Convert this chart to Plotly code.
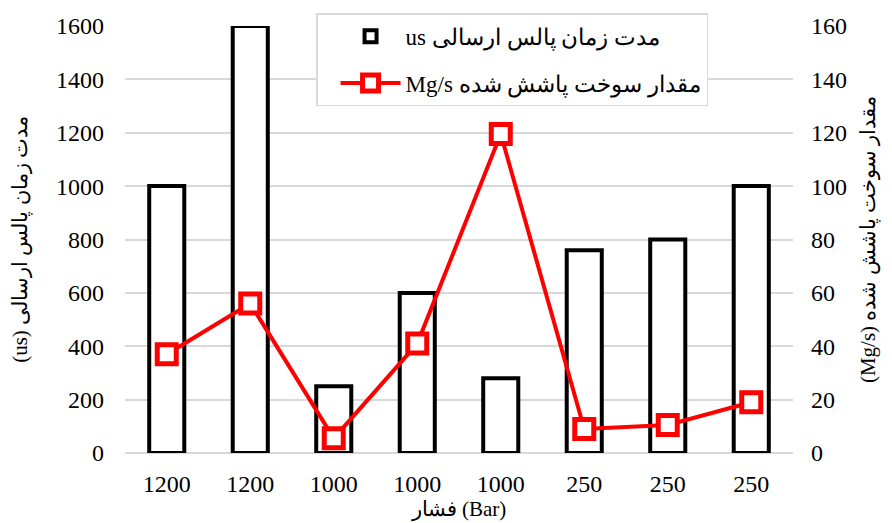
import plotly.graph_objects as go

categories = ["1200", "1200", "1000", "1000", "1000", "250", "250", "250"]
pulse_us = [1000, 1600, 250, 600, 280, 760, 800, 1000]
fuel_mgs = [37, 56, 5.5, 41, 119.5, 9, 10.5, 19]
left_ticks = [0, 200, 400, 600, 800, 1000, 1200, 1400, 1600]
right_ticks = [0, 20, 40, 60, 80, 100, 120, 140, 160]

name_bar = "us مدت زمان پالس ارسالی"
name_line = "Mg/s مقدار سوخت پاشش شده"
title_left = "(us) مدت زمان پالس ارسالی"
title_right = "(Mg/s) مقدار سوخت پاشش شده"
title_x = "فشار (Bar)"

FONT = "Liberation Serif"
xpos = list(range(len(categories)))

fig = go.Figure()
fig.add_trace(go.Bar(
    x=xpos, y=pulse_us, name=name_bar, width=0.42, legendgroup="a",
    marker=dict(color="white", line=dict(color="black", width=4)),
))
fig.add_trace(go.Scatter(
    x=xpos, y=fuel_mgs, name=name_line, yaxis="y2", mode="lines+markers",
    legendgroup="b",
    line=dict(color="#ff0000", width=4),
    marker=dict(symbol="square", size=19, color="white", line=dict(color="#ff0000", width=5)),
))

fig.update_layout(
    width=884, height=515,
    margin=dict(l=117, r=99, t=18, b=70, autoexpand=False),
    paper_bgcolor="white", plot_bgcolor="white",
    font=dict(family=FONT, size=24, color="black"),
    showlegend=True,
    legend=dict(x=0.286, y=1.03, xanchor="left", yanchor="top",
                bgcolor="white", bordercolor="#d9d9d9", borderwidth=1.5,
                font=dict(size=23), itemwidth=60, tracegroupgap=14,
                indentation=18),
    xaxis=dict(tickmode="array", tickvals=xpos, ticktext=categories,
               range=[-0.5, len(categories) - 0.5], showgrid=False, zeroline=False,
               showline=False, ticks="", automargin=False, ticklabelstandoff=14,
               title=dict(text=title_x, font=dict(size=21), standoff=0)),
    yaxis=dict(range=[0, 1600], tickmode="array", tickvals=left_ticks,
               showgrid=True, gridcolor="#d9d9d9", gridwidth=1.5,
               zeroline=True, zerolinecolor="#d9d9d9", zerolinewidth=1.5,
               showline=False, ticks="", automargin=False, ticklabelstandoff=20,
               title=dict(text=title_left, font=dict(size=21), standoff=24)),
    yaxis2=dict(range=[0, 160], tickmode="array", tickvals=right_ticks,
                overlaying="y", side="right", showgrid=False, zeroline=False,
                showline=False, ticks="", automargin=False, ticklabelstandoff=17,
                title=dict(text=title_right, font=dict(size=21), standoff=14)),
)

fig.write_html("out.html")
